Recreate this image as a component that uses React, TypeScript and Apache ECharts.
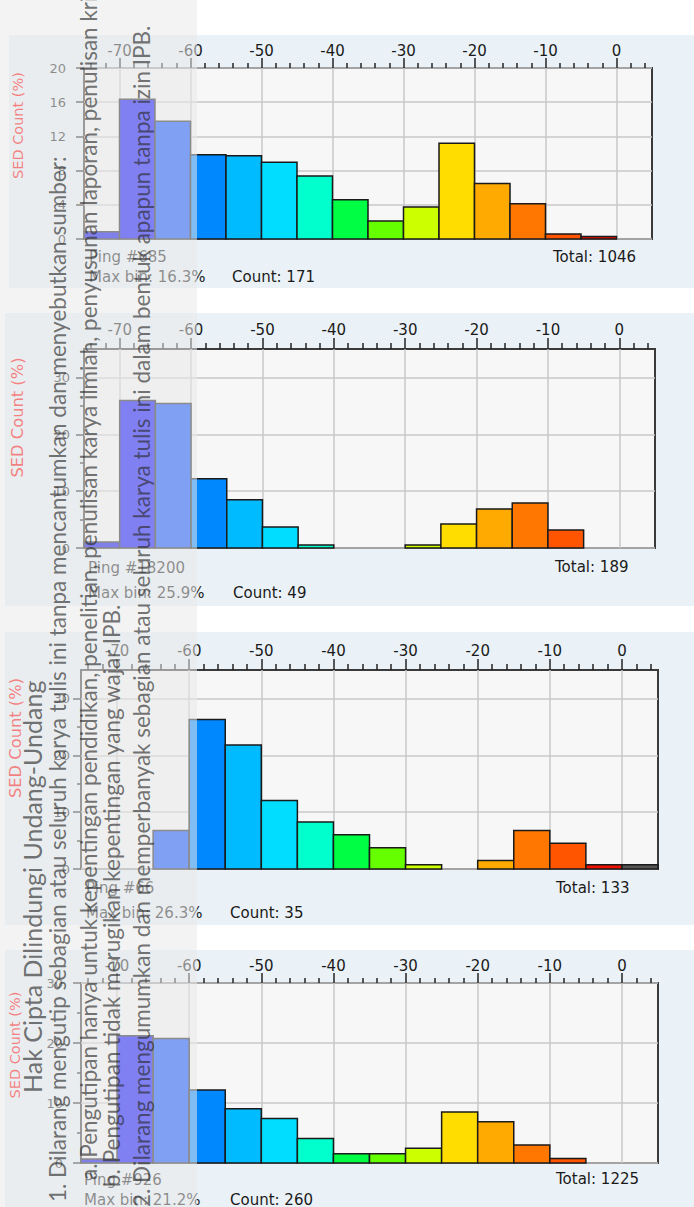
import React, { useEffect, useRef } from "react";
import * as echarts from "echarts";

// Histogram bins: 5 dB wide, left edges
const binStarts = [-75, -70, -65, -60, -55, -50, -45, -40, -35, -30, -25, -20, -15, -10, -5, 0];
const binWidth = 5;
const binColors = [
  "#0000EE", "#0000FF", "#0047FF", "#0088FF", "#00BBFF", "#00DDFF", "#00FFCC", "#00FF44",
  "#66FF00", "#CCFF00", "#FFDD00", "#FFAA00", "#FF7700", "#FF5500", "#EE1100", "#555555",
];

// Sample counts per bin for each ping
const ping685Counts = [9, 171, 144, 103, 102, 94, 77, 48, 22, 39, 117, 68, 43, 6, 3, 0];
const ping18200Counts = [2, 49, 48, 23, 16, 7, 1, 0, 0, 1, 8, 13, 15, 6, 0, 0];
const ping66Counts = [0, 0, 9, 35, 29, 16, 11, 8, 5, 1, 0, 2, 9, 6, 1, 1];
const ping926Counts = [8, 260, 254, 149, 111, 91, 50, 19, 19, 30, 104, 84, 37, 9, 0, 0];

const pingNumbers = [685, 18200, 66, 926];
const pingCounts = [ping685Counts, ping18200Counts, ping66Counts, ping926Counts];

// Axis ticks
const xTickValues = [-70, -60, -50, -40, -30, -20, -10, 0];
const yMaxes = [20, 35, 35, 30];
const yIntervals = [4, 10, 10, 10];
const yTickValues = [
  [0, 4, 8, 12, 16, 20],
  [0, 10, 20, 30],
  [0, 10, 20, 30],
  [0, 10, 20, 30],
];

// Copyright notice texts
const noticeLines = [
  "Hak Cipta Dilindungi Undang-Undang",
  "1. Dilarang mengutip sebagian atau seluruh karya tulis ini tanpa mencantumkan dan menyebutkan sumber:",
  "a. Pengutipan hanya untuk kepentingan pendidikan, penelitian, penulisan karya ilmiah, penyusunan laporan, penulisan kritik atau tinjauan suatu masalah.",
  "b. Pengutipan tidak merugikan kepentingan yang wajar IPB.",
  "2. Dilarang mengumumkan dan memperbanyak sebagian atau seluruh karya tulis ini dalam bentuk apapun tanpa izin IPB.",
];

// Page layout of the four panels (pixels)
const layout = [
  { bg: [9, 35, 685, 253], grid: [84, 68, 568, 171], xMargin: 9.5, xTick: 10, xMinor: 5, yMargin: 18, sed: [17.5, 125.5, 14.5], pingY: 257, maxY: 277, textX: 89, countX: 232, totalX: 553, totalY: 257 },
  { bg: [5, 313, 689, 293], grid: [84, 349, 571, 199], xMargin: 12, xTick: 11, xMinor: 6, yMargin: 14, sed: [17, 417.5, 16.3], pingY: 568, maxY: 593, textX: 88, countX: 233, totalX: 555, totalY: 567 },
  { bg: [5, 632, 689, 293], grid: [81, 670, 577, 199], xMargin: 12, xTick: 11, xMinor: 6, yMargin: 11, sed: [15, 738, 16.3], pingY: 888, maxY: 913, textX: 86, countX: 230, totalX: 556, totalY: 888 },
  { bg: [5, 950, 689, 257], grid: [81, 983, 577, 180], xMargin: 10, xTick: 10, xMinor: 5, yMargin: 18, sed: [15, 1045, 14.5], pingY: 1180, maxY: 1200, textX: 84, countX: 230, totalX: 556, totalY: 1179 },
];

// Notice columns: [centre x, start y, font size]
const noticePlace = [
  [31.5, 1093, 25],
  [57.5, 1202, 22.5],
  [88, 1180, 22.5],
  [111.5, 1187, 22.5],
  [141, 1207, 22.5],
];

const FONT = "DejaVu Sans";
const TEXT_COLOR = "#1a1a1a";

export default function App() {
  const ref = useRef<HTMLDivElement>(null);

  useEffect(() => {
    if (!ref.current) return;
    const chart = echarts.init(ref.current, null, { renderer: "svg" });

    const grids: any[] = [];
    const xAxes: any[] = [];
    const yAxes: any[] = [];
    const series: any[] = [];
    const graphics: any[] = [];

    layout.forEach((L, i) => {
      const counts = pingCounts[i];
      const total = counts.reduce((a, b) => a + b, 0);
      const maxCount = Math.max(...counts);
      const maxPct = (maxCount / total) * 100;

      graphics.push({
        type: "rect",
        z: -10,
        shape: { x: L.bg[0], y: L.bg[1], width: L.bg[2], height: L.bg[3] },
        style: { fill: "#EAF2F7" },
      });

      grids.push({
        left: L.grid[0],
        top: L.grid[1],
        width: L.grid[2],
        height: L.grid[3],
        show: true,
        backgroundColor: "#F7F7F7",
        borderColor: "#3a3a3a",
        borderWidth: 2,
        containLabel: false,
      });

      xAxes.push({
        type: "value",
        gridIndex: i,
        position: "top",
        min: -75,
        max: 5,
        splitNumber: 8,
        minInterval: 10,
        maxInterval: 10,
        axisLine: { show: false, onZero: false },
        axisTick: {
          show: true,
          inside: false,
          length: L.xTick,
          customValues: xTickValues,
          lineStyle: { color: "#222", width: 1.5 },
        },
        minorTick: {
          show: true,
          splitNumber: 5,
          length: L.xMinor,
          lineStyle: { color: "#222", width: 1.5 },
        },
        axisLabel: {
          customValues: xTickValues,
          margin: L.xMargin,
          fontFamily: FONT,
          fontSize: 15,
          color: TEXT_COLOR,
        },
        splitLine: { show: true, lineStyle: { color: "#C8C8C8", width: 1.5 } },
      });

      yAxes.push({
        type: "value",
        gridIndex: i,
        position: "left",
        min: 0,
        max: yMaxes[i],
        interval: yIntervals[i],
        axisLine: { show: false, onZero: false },
        axisTick: {
          show: true,
          inside: false,
          length: 8,
          customValues: yTickValues[i],
          lineStyle: { color: "#222", width: 1.5 },
        },
        minorTick: {
          show: i > 0,
          splitNumber: 2,
          length: 4,
          lineStyle: { color: "#222", width: 1.5 },
        },
        axisLabel: {
          customValues: yTickValues[i],
          margin: L.yMargin,
          fontFamily: FONT,
          fontSize: 13,
          color: TEXT_COLOR,
        },
        splitLine: { show: true, lineStyle: { color: "#C8C8C8", width: 1.5 } },
      });

      series.push({
        type: "custom",
        xAxisIndex: i,
        yAxisIndex: i,
        z: 3,
        encode: { x: [0, 1], y: 2 },
        data: binStarts.map((s, k) => [s, s + binWidth, (counts[k] / total) * 100, k]),
        renderItem: (params: any, api: any) => {
          const x0 = api.value(0);
          const x1 = api.value(1);
          const pct = api.value(2);
          const ci = api.value(3);
          if (!(pct > 0)) return null;
          const p0 = api.coord([x0, 0]);
          const p1 = api.coord([x1, pct]);
          return {
            type: "rect",
            shape: { x: p0[0], y: p1[1], width: p1[0] - p0[0], height: p0[1] - p1[1] },
            style: { fill: binColors[ci], stroke: "#1a1a1a", lineWidth: 1.5 },
          };
        },
      });

      // axis title
      graphics.push({
        type: "text",
        z: 10,
        x: L.sed[0],
        y: L.sed[1],
        rotation: Math.PI / 2,
        style: {
          text: "SED Count (%)",
          fill: "#FF0000",
          fontFamily: FONT,
          fontSize: L.sed[2],
          align: "center",
          verticalAlign: "middle",
        },
      });

      const info = (text: string, x: number, y: number) => ({
        type: "text",
        z: 10,
        x,
        y,
        style: {
          text,
          fill: TEXT_COLOR,
          fontFamily: FONT,
          fontSize: 15,
          align: "left",
          verticalAlign: "middle",
        },
      });
      graphics.push(info(`Ping #${pingNumbers[i]}`, L.textX, L.pingY));
      graphics.push(info(`Max bin: ${maxPct.toFixed(1)}%`, L.textX, L.maxY));
      graphics.push(info(`Count: ${maxCount}`, L.countX, L.maxY));
      graphics.push(info(`Total: ${total}`, L.totalX, L.totalY));
    });

    // translucent band carrying the copyright notice
    graphics.push({
      type: "rect",
      z: 100,
      shape: { x: 0, y: 0, width: 197, height: 1207 },
      style: { fill: "rgba(233,233,233,0.55)" },
    });
    noticeLines.forEach((t, k) => {
      const [cx, sy, fs] = noticePlace[k];
      graphics.push({
        type: "text",
        z: 101,
        x: cx,
        y: sy,
        rotation: Math.PI / 2,
        style: {
          text: t,
          fill: "rgba(40,40,40,0.65)",
          fontFamily: "Lato",
          fontSize: fs,
          align: "left",
          verticalAlign: "middle",
        },
      });
    });

    chart.setOption({
      animation: false,
      grid: grids,
      xAxis: xAxes,
      yAxis: yAxes,
      series,
      graphic: { elements: graphics },
    });

    return () => chart.dispose();
  }, []);

  return (
    <div
      ref={ref}
      style={{ position: "absolute", left: 0, top: 0, width: 694, height: 1207, background: "#ffffff" }}
    />
  );
}
